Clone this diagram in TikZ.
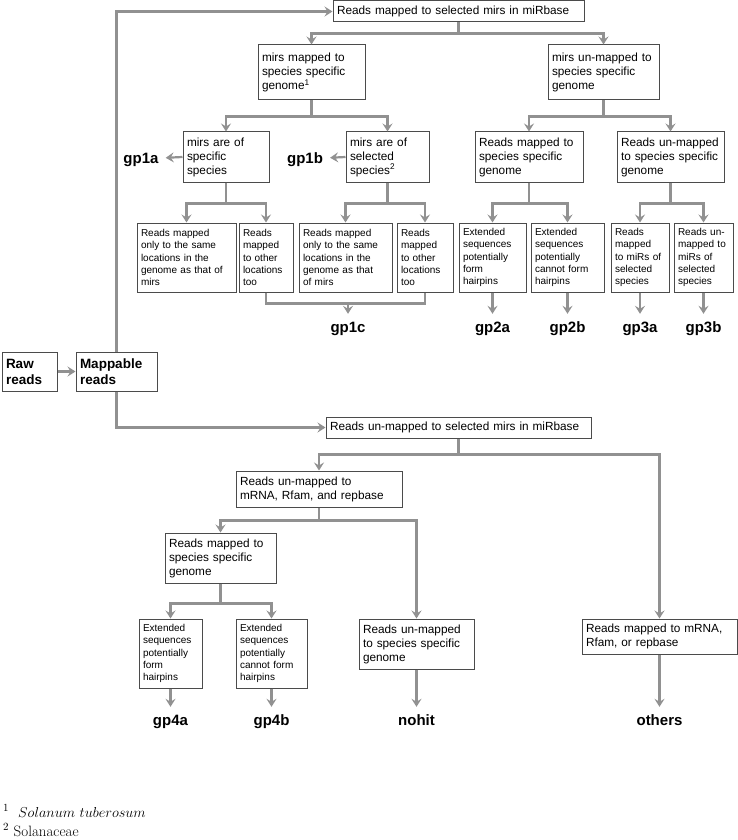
\documentclass[tikz,border=0pt]{standalone}
\usepackage{fontspec}
\newfontfamily\arial{Liberation Sans}
\usetikzlibrary{arrows.meta}
\definecolor{lncol}{RGB}{145,145,145}
\definecolor{bdcol}{RGB}{75,75,75}
\hyphenpenalty=10000
\exhyphenpenalty=10000
\newcommand\bx[7]{%
 \pgfmathsetmacro\myBW{#4-#2}\pgfmathsetmacro\myBH{#5-#3}\pgfmathsetmacro\myTW{#4-#2-8}%
 \node[#6, minimum width=\myBW pt, minimum height=\myBH pt, text width=\myTW pt] (#1) at ({(#2+#4)/2},{(#3+#5)/2}) {#7};}
\tikzset{
 box/.style={draw=bdcol, line width=1pt, fill=white, inner xsep=4pt, inner ysep=0pt, align=left,
   font=\arial\fontsize{11.8}{14}\selectfont},
 sbox/.style={box, font=\arial\fontsize{10}{12.3}\selectfont},
 bbox/.style={box, font=\arial\bfseries\fontsize{13.5}{16}\selectfont},
 ln/.style={draw=lncol, line width=2.2pt},
 arr/.style={ln, -{Stealth[length=8pt,width=10pt,inset=3pt]}},
 lbl/.style={font=\arial\bfseries\fontsize{15}{18}\selectfont, inner sep=7pt, text height=11pt, text depth=3pt},
 fn/.style={anchor=base west, inner sep=0pt, font=\fontsize{15}{18}\selectfont}
}
\begin{document}
\begin{tikzpicture}[x=1pt,y=-1pt]
\useasboundingbox (0,0) rectangle (738,840);
% boxes
\bx{R}{2}{352}{57}{391}{bbox}{Raw\\reads}
\bx{M}{76}{352}{157}{391}{bbox}{Mappable\\reads}
\bx{T}{333}{1}{584}{22}{box}{Reads mapped to selected mirs in miRbase}
\bx{A}{258}{45}{365}{100}{box}{mirs mapped to\\species specific\\genome\textsuperscript{1}}
\bx{B}{548}{45}{659}{100}{box}{mirs un-mapped to\\species specific\\genome}
\bx{Sa}{183}{132}{269}{182}{box}{mirs are of\\specific\\species}
\bx{Sb}{346}{132}{429}{182}{box}{mirs are of\\selected\\species\textsuperscript{2}}
\bx{C}{475}{132}{583}{182}{box}{Reads mapped to\\species specific\\genome}
\bx{D}{617}{132}{724}{182}{box}{Reads un-mapped\\to species specific\\genome}
\bx{Ea}{137}{223}{236}{292}{sbox}{Reads mapped\\only to the same\\locations in the\\genome as that of\\mirs}
\bx{Eb}{239}{223}{293}{292}{sbox}{Reads\\mapped\\to other\\locations\\too}
\bx{Fa}{299}{223}{392}{292}{sbox}{Reads mapped\\only to the same\\locations in the\\genome as that\\of mirs}
\bx{Fb}{397}{223}{453}{292}{sbox}{Reads\\mapped\\to other\\locations\\too}
\bx{Ca}{459}{223}{526}{292}{sbox}{Extended\\sequences\\potentially\\form\\hairpins}
\bx{Cb}{531}{223}{604}{292}{sbox}{Extended\\sequences\\potentially\\cannot form\\hairpins}
\bx{Da}{611}{223}{669}{292}{sbox}{Reads\\mapped\\to miRs of\\selected\\species}
\bx{Db}{674}{223}{733}{292}{sbox}{Reads un-\\mapped to\\miRs of\\selected\\species}
\bx{U}{326}{417}{591}{438}{box}{Reads un-mapped to selected mirs in miRbase}
\bx{G}{236}{471}{402}{507}{box}{Reads un-mapped to\\mRNA, Rfam, and repbase}
\bx{H}{165}{533}{276}{583}{box}{Reads mapped to\\species specific\\genome}
\bx{Ha}{139}{619}{202}{688}{sbox}{Extended\\sequences\\potentially\\form\\hairpins}
\bx{Hb}{236}{619}{307}{688}{sbox}{Extended\\sequences\\potentially\\cannot form\\hairpins}
\bx{N}{359}{619}{474}{669}{box}{Reads un-mapped\\to species specific\\genome}
\bx{O}{582}{619}{737}{654}{box}{Reads mapped to mRNA,\\Rfam, or repbase}
% labels
\node[lbl] (g1a) at (141,159) {gp1a};
\node[lbl] (g1b) at (305,159) {gp1b};
\node[lbl] (g1c) at (348,328) {gp1c};
\node[lbl] (g2a) at (492.5,328) {gp2a};
\node[lbl] (g2b) at (567.5,328) {gp2b};
\node[lbl] (g3a) at (640,328) {gp3a};
\node[lbl] (g3b) at (703.5,328) {gp3b};
\node[lbl] (g4a) at (170.5,721) {gp4a};
\node[lbl] (g4b) at (271.5,721) {gp4b};
\node[lbl] (gnh) at (416.5,721) {nohit};
\node[lbl] (got) at (659.5,721) {others};
% connectors
\draw[arr] (R.east) -- (M.west);
\draw[arr] (M.north) |- (T.west);
\draw[arr] (M.south) |- (U.west);
\draw[ln] (T.south) -- ++(0,11) coordinate (jT);
\draw[arr] (jT) -| (A.north);
\draw[arr] (jT) -| (B.north);
\draw[ln] (A.south) -- ++(0,16) coordinate (jA);
\draw[arr] (jA) -| (Sa.north);
\draw[arr] (jA) -| (Sb.north);
\draw[ln] (B.south) -- ++(0,16) coordinate (jB);
\draw[arr] (jB) -| (C.north);
\draw[arr] (jB) -| (D.north);
\draw[arr] (Sa.west) -- (g1a);
\draw[arr] (Sb.west) -- (g1b);
\draw[ln] (Sa.south) -- ++(0,21) coordinate (jSa);
\draw[arr] (jSa) -| (Ea.north);
\draw[arr] (jSa) -| (Eb.north);
\draw[ln] (Sb.south) -- ++(0,21) coordinate (jSb);
\draw[arr] (jSb) -| (Fa.north);
\draw[arr] (jSb) -| (Fb.north);
\draw[ln] (C.south) -- ++(0,21) coordinate (jC);
\draw[arr] (jC) -| (Ca.north);
\draw[arr] (jC) -| (Cb.north);
\draw[ln] (D.south) -- ++(0,21) coordinate (jD);
\draw[arr] (jD) -| (Da.north);
\draw[arr] (jD) -| (Db.north);
\draw[ln] (Eb.south) -- ++(0,11) -| (Fb.south);
\coordinate (jc) at (348,303);
\draw[arr] (jc) -- (g1c);
\draw[arr] (Ca.south) -- (g2a);
\draw[arr] (Cb.south) -- (g2b);
\draw[arr] (Da.south) -- (g3a);
\draw[arr] (Db.south) -- (g3b);
\draw[ln] (U.south) -- ++(0,16) coordinate (jU);
\draw[arr] (jU) -| (G.north);
\draw[arr] (jU) -| (O.north);
\draw[ln] (G.south) -- ++(0,13) coordinate (jG);
\draw[arr] (jG) -| (H.north);
\draw[arr] (jG) -| (N.north);
\draw[ln] (H.south) -- ++(0,20) coordinate (jH);
\draw[arr] (jH) -| (Ha.north);
\draw[arr] (jH) -| (Hb.north);
\draw[arr] (Ha.south) -- (g4a);
\draw[arr] (Hb.south) -- (g4b);
\draw[arr] (N.south) -- (gnh);
\draw[arr] (O.south) -- (got);
% footnotes
\node[fn] (fn1) at (3,817) {$^{1}$\ \ $Solanum\ tuberosum$};
\node[fn] (fn2) at (3,836) {$^{2}$ Solanaceae};
\end{tikzpicture}
\end{document}
